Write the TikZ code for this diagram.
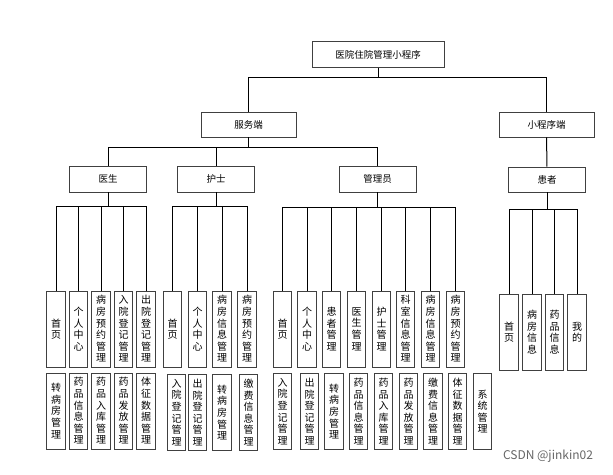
\documentclass[tikz,border=0pt]{standalone}
\usepackage{fontspec}
\newfontfamily\cjk{Noto Sans CJK SC}
\begin{document}
\begin{tikzpicture}[x=1pt,y=-1pt, every node/.style={font=\cjk\fontsize{9.5}{11.5}\selectfont}]
  \tikzstyle{hd}=[draw=black!75,line width=0.9pt,minimum width=95pt,minimum height=25pt,inner sep=0pt]
  \tikzstyle{role}=[hd,minimum width=77pt,minimum height=26pt]
  \tikzstyle{lf}=[draw=black!75,line width=0.9pt,minimum width=18.5pt,minimum height=76pt,inner sep=0pt,align=center,font=\cjk\fontsize{10}{11.6}\selectfont]
  \tikzstyle{ln}=[line width=1pt]
  \useasboundingbox (0,0) rectangle (613,474);
  % top levels
  \node[hd,minimum width=132pt,minimum height=26pt] (app) at (378,54.5) {医院住院管理小程序};
  \node[hd] (srv) at (248.5,124.5) {服务端};
  \node[hd] (mp) at (546.5,124.5) {小程序端};
  \node[role] (doc) at (108,179) {医生};
  \node[role] (nur) at (216,179) {护士};
  \node[role] (adm) at (377.5,179) {管理员};
  \node[role,minimum height=25pt] (pat) at (547,179.5) {患者};
  % doctor
  \node[lf] (d1) at (56,329) {首\\页};
  \node[lf] (d2) at (78.5,329) {个\\人\\中\\心};
  \node[lf] (d3) at (101,329) {病\\房\\预\\约\\管\\理};
  \node[lf] (d4) at (123.5,329) {入\\院\\登\\记\\管\\理};
  \node[lf] (d5) at (146,329) {出\\院\\登\\记\\管\\理};
  \node[lf] (d6) at (56,411) {转\\病\\房\\管\\理};
  \node[lf] (d7) at (78.5,411) {药\\品\\信\\息\\管\\理};
  \node[lf] (d8) at (101,411) {药\\品\\入\\库\\管\\理};
  \node[lf] (d9) at (123.5,411) {药\\品\\发\\放\\管\\理};
  \node[lf] (d10) at (146,411) {体\\征\\数\\据\\管\\理};
  % nurse
  \node[lf] (n1) at (172.5,329) {首\\页};
  \node[lf] (n2) at (197.5,329) {个\\人\\中\\心};
  \node[lf] (n3) at (222,329) {病\\房\\信\\息\\管\\理};
  \node[lf] (n4) at (247,329) {病\\房\\预\\约\\管\\理};
  \node[lf] (n5) at (176.5,412.5) {入\\院\\登\\记\\管\\理};
  \node[lf] (n6) at (197.5,412.5) {出\\院\\登\\记\\管\\理};
  \node[lf] (n7) at (222,412.5) {转\\病\\房\\管\\理};
  \node[lf] (n8) at (248.5,412.5) {缴\\费\\信\\息\\管\\理};
  % admin
  \node[lf] (a1) at (282.5,329) {首\\页};
  \node[lf] (a2) at (307,329) {个\\人\\中\\心};
  \node[lf] (a3) at (331.5,329) {患\\者\\管\\理};
  \node[lf] (a4) at (356.5,329) {医\\生\\管\\理};
  \node[lf] (a5) at (381.5,329) {护\\士\\管\\理};
  \node[lf] (a6) at (405.5,329) {科\\室\\信\\息\\管\\理};
  \node[lf] (a7) at (430.5,329) {病\\房\\信\\息\\管\\理};
  \node[lf] (a8) at (455.5,329) {病\\房\\预\\约\\管\\理};
  \node[lf] (a9) at (282.5,411.5) {入\\院\\登\\记\\管\\理};
  \node[lf] (a10) at (309.5,411.5) {出\\院\\登\\记\\管\\理};
  \node[lf] (a11) at (334,411.5) {转\\病\\房\\管\\理};
  \node[lf] (a12) at (358.5,411.5) {药\\品\\信\\息\\管\\理};
  \node[lf] (a13) at (383.5,411.5) {药\\品\\入\\库\\管\\理};
  \node[lf] (a14) at (408.5,411.5) {药\\品\\发\\放\\管\\理};
  \node[lf] (a15) at (433,411.5) {缴\\费\\信\\息\\管\\理};
  \node[lf] (a16) at (457.5,411.5) {体\\征\\数\\据\\管\\理};
  \node[lf] (a17) at (482.5,411.5) {系\\统\\管\\理};
  % patient
  \node[lf] (p1) at (509,332) {首\\页};
  \node[lf] (p2) at (532,332) {病\\房\\信\\息};
  \node[lf] (p3) at (554.5,332) {药\\品\\信\\息};
  \node[lf] (p4) at (577,332) {我\\的};
  % connectors
  \coordinate (b0) at (378,77);
  \coordinate (b1) at (248.5,147);
  \coordinate (bd) at (108,206);
  \coordinate (bn) at (216,206);
  \coordinate (ba) at (377.5,207);
  \coordinate (bp) at (547,209);
  \draw[ln] (app) -- (b0);
  \draw[ln] (b0) -| (srv);
  \draw[ln] (b0) -| (mp);
  \draw[ln] (srv) -- (b1);
  \draw[ln] (b1) -| (doc);
  \draw[ln] (b1) -| (nur);
  \draw[ln] (b1) -| (adm);
  \draw[ln] (mp) -- (pat);
  \draw[ln] (doc) -- (bd);
  \foreach \i in {1,...,5} \draw[ln] (bd) -| (d\i);
  \draw[ln] (nur) -- (bn);
  \foreach \i in {1,...,4} \draw[ln] (bn) -| (n\i);
  \draw[ln] (adm) -- (ba);
  \foreach \i in {1,...,8} \draw[ln] (ba) -| (a\i);
  \draw[ln] (pat) -- (bp);
  \foreach \i in {1,...,4} \draw[ln] (bp) -| (p\i);
  \node[text=black!60,font=\cjk\fontsize{12}{14}\selectfont] (wm) at (548,456) {CSDN @jinkin02};
\end{tikzpicture}
\end{document}
